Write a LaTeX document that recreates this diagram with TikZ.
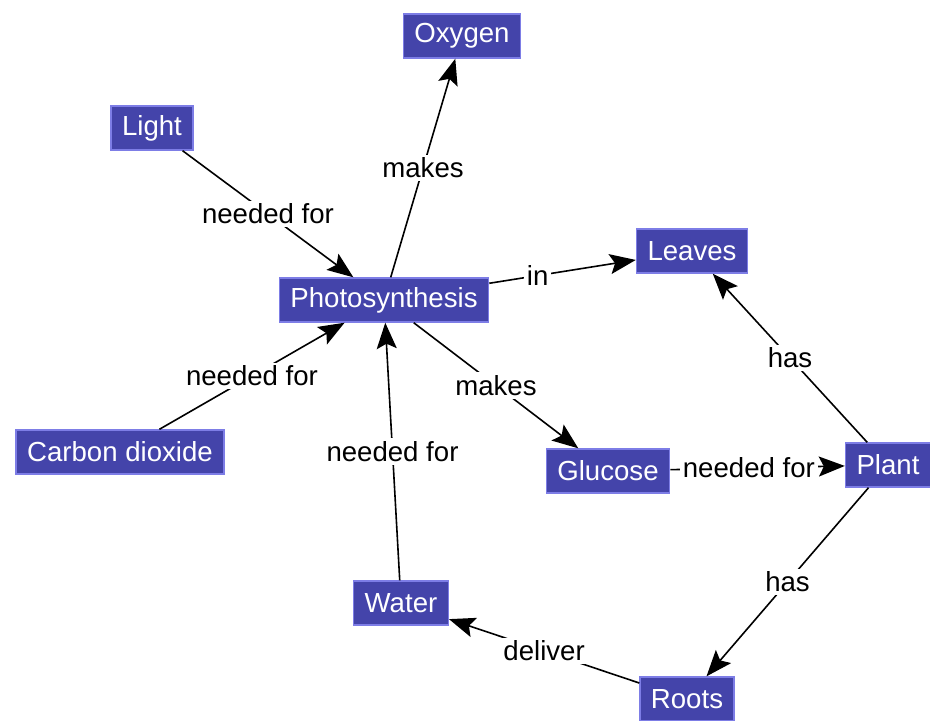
\documentclass[tikz,border=0pt]{standalone}
\usepackage{fontspec}
\setmainfont{Liberation Sans}
\usetikzlibrary{positioning, arrows.meta}
\definecolor{conceptfill}{RGB}{68,68,170}
\definecolor{conceptline}{RGB}{125,125,230}

\begin{document}
\begin{tikzpicture}[
    x=0.5pt, y=-0.5pt,
    concept/.style={draw=conceptline, line width=0.7pt, fill=conceptfill, text=white, rectangle, inner xsep=5.5pt, minimum height=22pt, font=\fontsize{13.8}{16}\selectfont},
    link/.style={-{Stealth[length=13pt, width=10pt, inset=2.5pt]}, line width=0.8pt},
    lbl/.style={fill=white, inner sep=1.5pt, font=\fontsize{13.8}{16}\selectfont}
]
\useasboundingbox (0,0) rectangle (930,720);

% Concepts
\node[concept] (oxygen) at (462,36) {Oxygen};
\node[concept] (light) at (152,128) {Light};
\node[concept] (leaves) at (692,251) {Leaves};
\node[concept] (photo) at (384,300) {Photosynthesis};
\node[concept] (co2) at (120,452) {Carbon dioxide};
\node[concept] (glucose) at (608,471) {Glucose};
\node[concept] (plant) at (888,465) {Plant};
\node[concept] (water) at (401,603) {Water};
\node[concept] (roots) at (687,699) {Roots};

% Links
\draw[link] (light) -- node[lbl] {needed for} (photo);
\draw[link] (photo) -- node[lbl] {makes} (oxygen);
\draw[link] (photo) -- node[lbl, pos=0.33] {in} (leaves);
\draw[link] (co2) -- node[lbl] {needed for} (photo);
\draw[link] (photo) -- node[lbl] {makes} (glucose);
\draw[link] (water) -- node[lbl] {needed for} (photo);
\draw[link] (glucose) -- node[lbl, pos=0.45] {needed for} (plant);
\draw[link] (plant) -- node[lbl] {has} (leaves);
\draw[link] (plant) -- node[lbl] {has} (roots);
\draw[link] (roots) -- node[lbl] {deliver} (water);

\end{tikzpicture}
\end{document}
